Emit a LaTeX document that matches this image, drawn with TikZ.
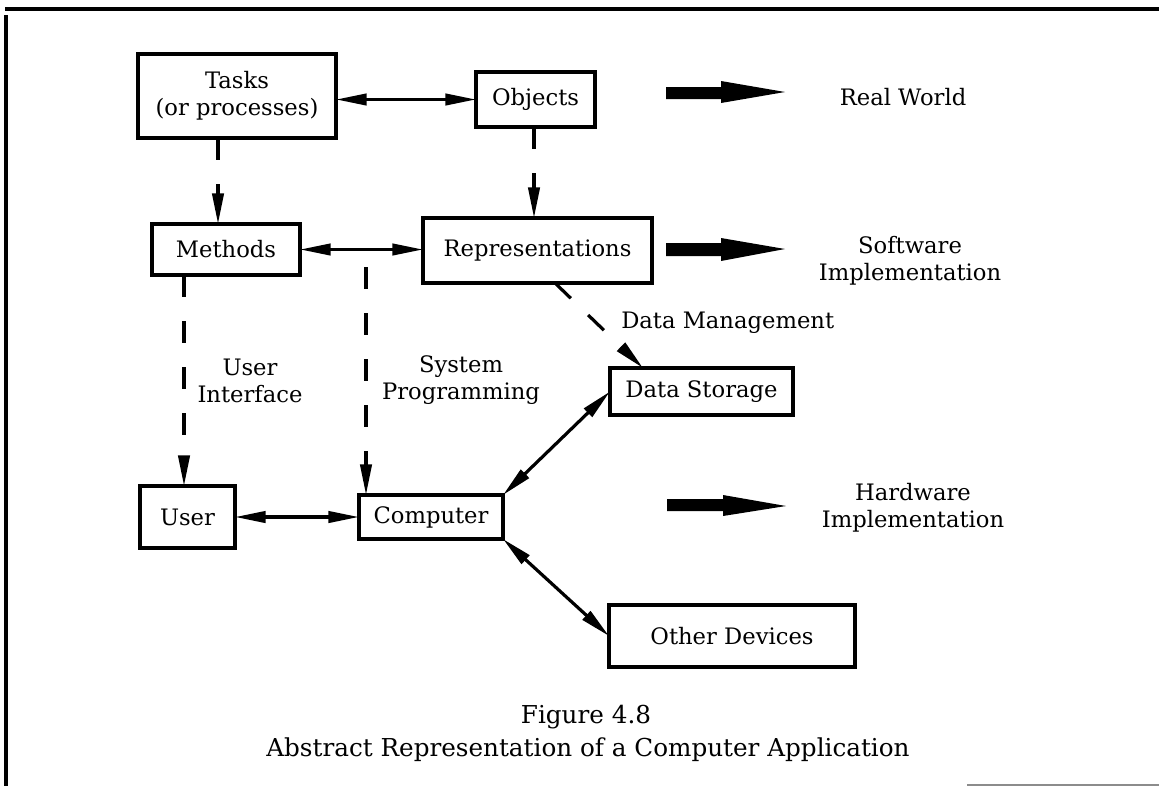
\documentclass[tikz,border=0pt]{standalone}
\usepackage{fontspec}
\setmainfont{DejaVu Serif}
\usetikzlibrary{arrows.meta}
\begin{document}
\begin{tikzpicture}[x=0.75pt,y=-0.75pt,
  every node/.style={font=\fontsize{17}{20.5}\selectfont},
  box/.style={draw,line width=2.4pt,inner sep=0pt,outer sep=0pt,align=center},
  bsz/.style 2 args={minimum width=#1*0.75pt,minimum height=#2*0.75pt},
  tip/.tip={Triangle[length=23pt,width=8.5pt]},
  dbl/.style={line width=2.4pt,tip-tip},
  dasharrow/.style={line width=2.4pt,dash pattern=on 16.5pt off 18pt,-tip},
  lbl/.style={align=center,inner sep=0pt},
  caption/.style={lbl,font=\fontsize{18.5}{22}\selectfont},
  bigarrow/.style={fill=black,draw=none}]
\useasboundingbox (0,0) rectangle (1159,786);
% frame
\draw[line width=2.4pt] (5,9) -- (1159,9);
\draw[line width=2.8pt] (6,15) -- (6,786);
\draw[line width=1.2pt,black!45] (967,785) -- (1159,785);
% boxes
\node[box,bsz={198}{84}] (tasks) at (237,96) {Tasks\\(or processes)};
\node[box,bsz={119}{55}] (objects) at (535.5,99.5) {Objects};
\node[box,bsz={148}{51}] (methods) at (226,249.5) {Methods};
\node[box,bsz={229}{65}] (repr) at (537.5,250.5) {Representations};
\node[box,bsz={183}{47}] (storage) at (701.5,391.5) {Data Storage};
\node[box,bsz={95}{62}] (user) at (187.5,517) {User};
\node[box,bsz={144}{44}] (computer) at (431,517) {Computer};
\node[box,bsz={246}{62}] (other) at (732,636) {Other Devices};
% column helpers
\coordinate (xTM) at (218,0);
\coordinate (xOR) at (534,0);
\coordinate (xMU) at (184,0);
\coordinate (xSP) at (366,0);
\coordinate (xDM) at (555,0);
\coordinate (xDS) at (643,0);
\coordinate (sp) at (366,267);
% connectors
\draw[dbl] (tasks.east |- objects.west) -- (objects.west);
\draw[dbl] (methods.east) -- (methods.east -| repr.west);
\draw[dbl] (user.east) -- (computer.west);
\draw[dbl] (computer.north east) -- (storage.west);
\draw[dbl] (computer.south east) -- (other.west);
\draw[dasharrow] (tasks.south -| xTM) -- (methods.north -| xTM);
\draw[dasharrow] (objects.south -| xOR) -- (repr.north -| xOR);
\draw[dasharrow] (methods.south -| xMU) -- (user.north -| xMU);
\draw[dasharrow] (sp) -- (computer.north -| xSP);
\draw[dasharrow] (repr.south -| xDM) -- (storage.north -| xDS);
% big arrows
\fill[bigarrow] (666,87) -- (721,87) -- (721,81) -- (785,92) -- (721,103) -- (721,99) -- (666,99) -- cycle;
\fill[bigarrow] (666,243) -- (721,243) -- (721,238) -- (785,249) -- (721,261) -- (721,256) -- (666,256) -- cycle;
\fill[bigarrow] (667,499) -- (723,499) -- (723,495) -- (786,506) -- (723,516) -- (723,511) -- (667,511) -- cycle;
% labels
\node[lbl] (rw) at (903,97) {Real World};
\node[lbl] (sw) at (910,261) {Software\\Implementation};
\node[lbl] (hw) at (913,508) {Hardware\\Implementation};
\node[lbl] (ui) at (250,381) {User\\Interface};
\node[lbl] (sysp) at (461,380) {System\\Programming};
\node[lbl,anchor=west] (dmg) at (621,323) {Data Management};
\node[caption] (cap1) at (586,717) {Figure 4.8};
\node[caption] (cap2) at (588,750) {Abstract Representation of a Computer Application};
\end{tikzpicture}
\end{document}
